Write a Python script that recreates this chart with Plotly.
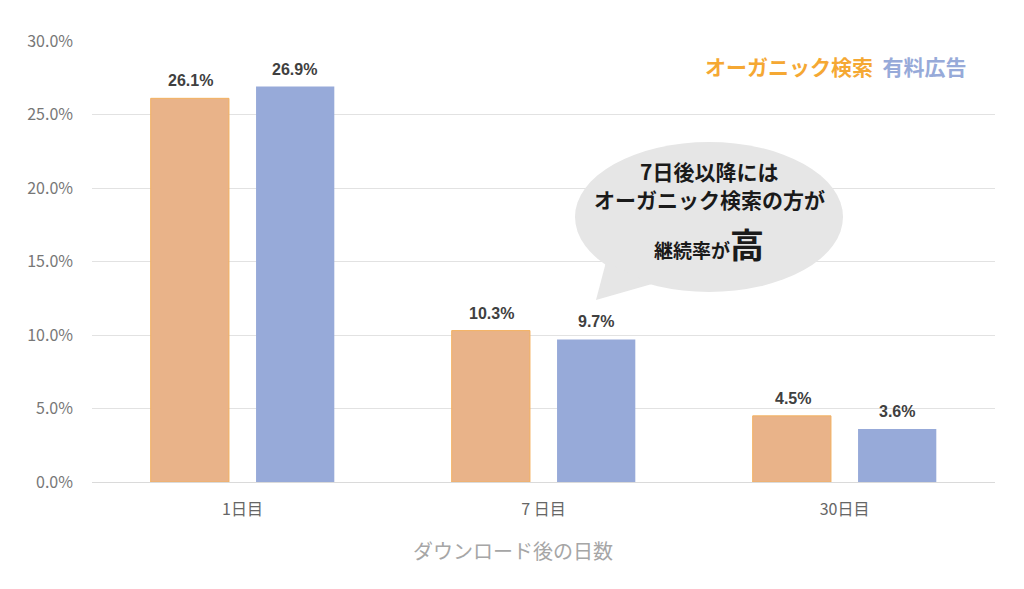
import plotly.graph_objects as go

categories = ["1日目", "7 日目", "30日目"]
organic = [0.261, 0.103, 0.045]
paid = [0.269, 0.097, 0.036]
series_names = ["オーガニック検索", "有料広告"]
y_ticks = [0, 0.05, 0.10, 0.15, 0.20, 0.25, 0.30]
x_title = "ダウンロード後の日数"

JP = "Noto Sans CJK JP"
ORANGE = "#E9B389"
BLUE = "#97AAD9"

fig = go.Figure()
fig.add_trace(go.Bar(x=categories, y=organic, name=series_names[0],
                     marker=dict(color=ORANGE, line=dict(color="#F3B160", width=1))))
fig.add_trace(go.Bar(x=categories, y=paid, name=series_names[1],
                     marker=dict(color=BLUE, line=dict(width=0))))

# value labels
for vals, shift in ((organic, -52), (paid, 52)):
    for c, v in zip(categories, vals):
        fig.add_annotation(x=c, y=v, xref="x", yref="y", text=f"<b>{v:.1%}</b>",
                           showarrow=False, xshift=shift, yshift=7, yanchor="bottom",
                           font=dict(family="Liberation Sans", size=16, color="#404040"))

# page body has an 8px margin: compensate on left/top
OFF = 8
L, R, T, B = 92, 29, 41, 107
W, H = 1024, 589
pw, ph = W - L - R, H - T - B

def px(x):
    return (x - L) / pw

def py(y):
    return (H - B - y) / ph

# speech bubble
fig.add_shape(type="circle", xref="paper", yref="paper",
              x0=px(575), x1=px(843), y0=py(292), y1=py(142),
              fillcolor="#E6E6E6", line=dict(width=0), layer="above")
fig.add_shape(type="path", xref="paper", yref="paper",
              path=f"M {px(606)} {py(262)} L {px(596)} {py(300)} L {px(652)} {py(284)} Z",
              fillcolor="#E6E6E6", line=dict(width=0), layer="above")

bubble_lines = [("<b>7日後以降には</b>", 171),
                ("<b>オーガニック検索の方が</b>", 199)]
for txt, yy in bubble_lines:
    fig.add_annotation(xref="paper", yref="paper", x=px(709), y=py(yy), text=txt,
                       showarrow=False, font=dict(family=JP, size=21, color="#1a1a1a"),
                       xanchor="center", yanchor="middle")
fig.add_annotation(xref="paper", yref="paper", x=px(709), y=py(243),
                   text="<b>継続率が<span style='font-size:34px'>高</span></b>",
                   showarrow=False, font=dict(family=JP, size=19, color="#1a1a1a"),
                   xanchor="center", yanchor="middle")

# legend-like text
fig.add_annotation(xref="paper", yref="paper", x=px(703), y=py(66),
                   text=f"<b><span style='color:#F5A833'>{series_names[0]}</span>  "
                        f"<span style='color:{BLUE}'>{series_names[1]}</span></b>",
                   showarrow=False, font=dict(family=JP, size=21),
                   xanchor="left", yanchor="middle")

# x-axis title
fig.add_annotation(xref="paper", yref="paper", x=px(513), y=py(550), text=x_title,
                   showarrow=False, font=dict(family=JP, size=20, color="#A6A6A6"),
                   xanchor="center", yanchor="middle")

fig.update_layout(
    width=W - OFF, height=H - OFF,
    margin=dict(l=L - OFF, r=R, t=T - OFF, b=B, autoexpand=False),
    paper_bgcolor="white", plot_bgcolor="white",
    barmode="group", bargap=0.30, bargroupgap=0.257,
    showlegend=False,
    font=dict(family=JP),
    xaxis=dict(tickfont=dict(family=JP, size=16, color="#666666"),
               showline=False, ticks="", ticklabelstandoff=16),
    yaxis=dict(range=[0, 0.30], tickvals=y_ticks, tickformat=".1%",
               tickfont=dict(family=JP, size=16, color="#777777"),
               gridcolor="#E2E2E2", gridwidth=1, zeroline=True, zerolinecolor="#DADADA",
               zerolinewidth=1, showline=False, ticks="", ticklabelstandoff=18),
)

fig.write_html("out.html")
